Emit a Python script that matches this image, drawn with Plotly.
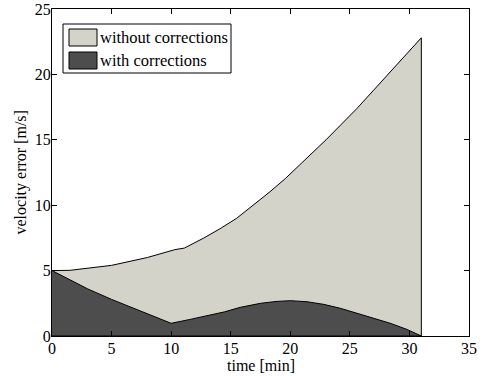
import plotly.graph_objects as go

# Velocity error over time, with and without corrections
t_without = [0, 1.5, 5, 8, 10.3, 11.1, 12.7, 14.1, 15.5, 16.9, 18.3, 19.6, 20.8, 21.7,
             23.0, 24.3, 25.6, 27.0, 28.4, 29.7, 31]
v_without = [5.0, 5.02, 5.4, 6.0, 6.6, 6.72, 7.47, 8.2, 9.0, 10.0, 11.03, 12.05, 13.07, 13.85,
             15.0, 16.2, 17.4, 18.8, 20.2, 21.5, 22.8]

t_with = [0, 3, 5, 10, 11.6, 13.3, 14.5, 15.8, 17.5, 18.8, 20, 21.4, 22.8, 24.2, 25.6, 27, 28.4, 29.8, 31]
v_with = [5.0, 3.6, 2.8, 0.97, 1.27, 1.6, 1.85, 2.19, 2.5, 2.64, 2.7, 2.62, 2.42, 2.12, 1.73, 1.35, 0.97, 0.5, 0.0]

x_ticks = [0, 5, 10, 15, 20, 25, 30, 35]
y_ticks = [0, 5, 10, 15, 20, 25]

series_names = ["without corrections", "with corrections"]
fill_colors = ["#d4d3c9", "#4d4d4d"]

FONT = "'Liberation Serif', 'Times New Roman', Times, serif"

fig = go.Figure()

for t, v, name, col in [(t_without, v_without, series_names[0], fill_colors[0]),
                        (t_with, v_with, series_names[1], fill_colors[1])]:
    xs = list(t) + [t[-1], t[0]]
    ys = list(v) + [0, 0]
    fig.add_trace(go.Scatter(
        x=xs, y=ys, mode="lines", fill="toself", fillcolor=col,
        line=dict(color="black", width=1), name=name, showlegend=False,
        hoverinfo="skip",
    ))

# Pixel helpers for the plot frame (paper coordinates)
PX_L, PX_B, PW, PH = 52, 336, 417, 327
def px(x):
    return (x - PX_L) / PW
def py(y):
    return (PX_B - y) / PH

# Legend box drawn as shapes and text
shapes = [dict(type="rect", xref="paper", yref="paper",
               x0=px(63), x1=px(231), y0=py(73), y1=py(24),
               line=dict(color="black", width=1), fillcolor="white", layer="above")]
annotations = []
rows = [(29, 46), (52, 69)]
for (top, bot), name, col in zip(rows, series_names, fill_colors):
    shapes.append(dict(type="rect", xref="paper", yref="paper",
                       x0=px(69), x1=px(97), y0=py(bot), y1=py(top),
                       line=dict(color="black", width=1), fillcolor=col, layer="above"))
    annotations.append(dict(xref="paper", yref="paper", x=px(98),
                            y=py((top + bot) / 2), text=name, showarrow=False,
                            xanchor="left", yanchor="middle",
                            font=dict(family=FONT, size=16.5, color="black")))

# Axis titles
annotations.append(dict(xref="paper", yref="paper", x=px(260.5), y=py(366),
                        text="time [min]", showarrow=False,
                        xanchor="center", yanchor="middle",
                        font=dict(family=FONT, size=16, color="black")))
annotations.append(dict(xref="paper", yref="paper", x=px(20), y=0.5,
                        text="velocity error [m/s]", showarrow=False, textangle=-90,
                        xanchor="center", yanchor="middle",
                        font=dict(family=FONT, size=16, color="black")))

axis_common = dict(showline=True, linecolor="black", linewidth=1.2, mirror="allticks",
                   ticks="inside", ticklen=5, tickcolor="black", tickwidth=1,
                   showgrid=False, zeroline=False, automargin=False,
                   ticklabeloverflow="allow",
                   tickfont=dict(family=FONT, size=16, color="black"))

fig.update_layout(
    width=483, height=376,
    margin=dict(l=52, r=14, t=9, b=40),
    paper_bgcolor="white", plot_bgcolor="white",
    font=dict(family=FONT, color="black"),
    shapes=shapes, annotations=annotations,
    xaxis=dict(range=[0, 35], tickvals=x_ticks, ticklabelstandoff=-2, **axis_common),
    yaxis=dict(range=[0, 25], tickvals=y_ticks, ticklabelstandoff=-3, **axis_common),
)

fig.write_html("out.html")
